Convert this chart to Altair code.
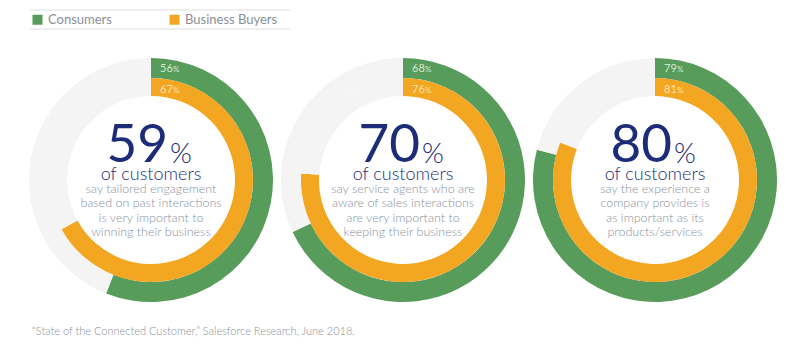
import altair as alt
import pandas as pd

# ---- data ----
surveys = ["Tailored engagement", "Sales-aware service", "Experience vs products"]
headline_pct = [59, 70, 80]
consumers_pct = [56, 68, 79]
business_pct = [67, 76, 81]
descriptions = [
    "say tailored engagement\nbased on past interactions\nis very important to\nwinning their business",
    "say service agents who are\naware of sales interactions\nare very important to\nkeeping their business",
    "say the experience a\ncompany provides is\nas important as its\nproducts/services",
]
series_names = ["Consumers", "Business Buyers"]
subtitle = "of customers"
source_note = "\u201cState of the Connected Customer,\u201d Salesforce Research, June 2018."

# ---- styles ----
GREEN = "#589c5b"
ORANGE = "#f2a621"
GRAY = "#f4f4f4"
NAVY = "#1c2c78"
TEXT_GRAY = "#8891a0"
FONT = "Lato"

arc_rows = []
for s, c, b in zip(surveys, consumers_pct, business_pct):
    arc_rows += [
        dict(survey=s, ring="outer", series="Consumers", start=0, end=c),
        dict(survey=s, ring="outer", series="Remaining", start=c, end=100),
        dict(survey=s, ring="inner", series="Business Buyers", start=0, end=b),
        dict(survey=s, ring="inner", series="Remaining", start=b, end=100),
    ]
arc_df = pd.DataFrame(arc_rows)

text_df = pd.DataFrame(dict(survey=surveys, headline=headline_pct, desc=descriptions,
                            consumers=consumers_pct, business=business_pct))

x_enc = alt.X("survey:N", sort=surveys, axis=None,
              scale=alt.Scale(type="point", domain=surveys, range=[151, 655], padding=0))
CY = 180

theta_scale = alt.Scale(domain=[0, 100], range=[0, 6.283185307179586])
color_enc = alt.Color(
    "series:N",
    scale=alt.Scale(domain=["Consumers", "Business Buyers", "Remaining"], range=[GREEN, ORANGE, GRAY]),
    legend=alt.Legend(values=series_names, orient="none", legendX=31, legendY=13,
                      direction="horizontal", columns=2, title=None, symbolType="square",
                      symbolSize=100, symbolStrokeWidth=0, labelFontSize=13,
                      labelColor="#8a909a", labelFont=FONT, labelOffset=4, columnPadding=56),
)

def arcs(ring, inner, outer):
    return (alt.Chart(arc_df).transform_filter(f"datum.ring == '{ring}'")
            .mark_arc(innerRadius=inner, outerRadius=outer)
            .encode(x=x_enc, y=alt.value(CY),
                    theta=alt.Theta("start:Q", scale=theta_scale, stack=False),
                    theta2=alt.Theta2("end:Q"),
                    color=color_enc))

outer_ring = arcs("outer", 102, 122)
inner_ring = arcs("inner", 84, 102)

base_t = alt.Chart(text_df)

big = base_t.mark_text(align="right", baseline="alphabetic", dx=17, fontSize=53, font=FONT,
                       fontWeight=400, color=NAVY).encode(
    x=x_enc, y=alt.value(162), text=alt.Text("headline:Q", format="d"))
pct = base_t.mark_text(align="left", baseline="alphabetic", dx=19, fontSize=28, font=FONT,
                       fontWeight=300, color=NAVY).encode(
    x=x_enc, y=alt.value(163), text=alt.value("%"))
sub = base_t.mark_text(align="center", baseline="alphabetic", fontSize=18, font=FONT,
                       fontWeight=300, color=NAVY).encode(x=x_enc, y=alt.value(180),
                                                          text=alt.value(subtitle))
desc = base_t.mark_text(align="center", baseline="alphabetic", fontSize=12.5, font=FONT,
                        fontWeight=300, lineBreak="\n", lineHeight=14.3, color=TEXT_GRAY).encode(
    x=x_enc, y=alt.value(193), text="desc:N")

c_lab = base_t.mark_text(align="left", baseline="alphabetic", dx=9, fontSize=11, font=FONT,
                         color="#d6e9d3").encode(x=x_enc, y=alt.value(72),
                                                 text=alt.Text("consumers:Q", format="d"))
c_pct = base_t.mark_text(align="left", baseline="alphabetic", dx=22, fontSize=8, font=FONT,
                         color="#d6e9d3").encode(x=x_enc, y=alt.value(72), text=alt.value("%"))
b_lab = base_t.mark_text(align="left", baseline="alphabetic", dx=9, fontSize=11, font=FONT,
                         color="#fde3b0").encode(x=x_enc, y=alt.value(93),
                                                 text=alt.Text("business:Q", format="d"))
b_pct = base_t.mark_text(align="left", baseline="alphabetic", dx=22, fontSize=8, font=FONT,
                         color="#fde3b0").encode(x=x_enc, y=alt.value(93), text=alt.value("%"))

blank = alt.Data(values=[{}])
rule_top = alt.Chart(blank).mark_rule(color="#dedede", strokeWidth=1).encode(
    x=alt.value(30), x2=alt.value(290), y=alt.value(10))
rule_bot = alt.Chart(blank).mark_rule(color="#dedede", strokeWidth=1).encode(
    x=alt.value(30), x2=alt.value(290), y=alt.value(29))

note = alt.Chart(alt.Data(values=[{"note": source_note}])).mark_text(
    align="left", baseline="alphabetic", fontSize=11, font=FONT, fontWeight=300,
    color="#8a909a").encode(x=alt.value(32), y=alt.value(335), text="note:N")

chart = alt.layer(outer_ring, inner_ring, big, pct, sub, desc, c_lab, c_pct, b_lab, b_pct,
                  rule_top, rule_bot, note).properties(
    width=793, height=355, padding=0, background="white",
    autosize=alt.AutoSizeParams(type="none"),
).configure_view(stroke=None)

chart.save("out.html", embed_options={"renderer": "svg", "actions": False})
